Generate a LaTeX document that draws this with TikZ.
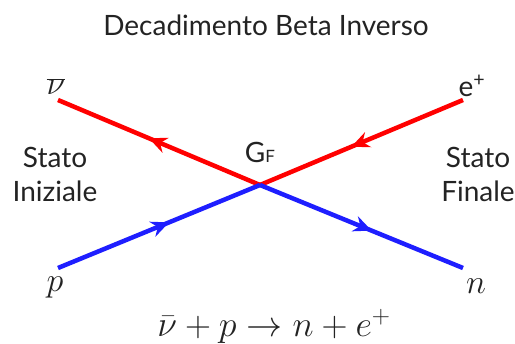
\RequirePackage{fix-cm}
\documentclass[tikz,border=0pt]{standalone}
\usepackage{fontspec}
\setmainfont{Lato}
\usetikzlibrary{arrows.meta,decorations.markings}
\definecolor{lred}{RGB}{255,0,0}
\definecolor{lblue}{RGB}{30,30,255}
\definecolor{txt}{RGB}{35,35,35}
\tikzset{
  txtlabel/.style={text=txt,font=\fontsize{28}{34}\selectfont,inner sep=0pt,anchor=base},
  mathlabel/.style={text=txt,font=\fontsize{34}{40}\selectfont,inner sep=0pt,anchor=base},
  particle/.style={line width=4.5pt,postaction={decorate},decoration={markings,
     mark=at position 0.55 with {\arrow{Stealth[length=18pt,width=16pt]}}}},
}
\begin{document}
\begin{tikzpicture}[x=1pt,y=-1pt]
\useasboundingbox (0,0) rectangle (515,344);
\coordinate (v) at (260,185);
\coordinate (nubar) at (58,100);
\coordinate (ep) at (463,100);
\coordinate (p) at (58,268);
\coordinate (n) at (463,268);
\draw[particle,lred] (v) -- (nubar);
\draw[particle,lred] (ep) -- (v);
\draw[particle,lblue] (p) -- (v);
\draw[particle,lblue] (v) -- (n);
\node[txtlabel] (title) at (266,36) {Decadimento Beta Inverso};
\node[mathlabel] (lnu) at (56,95) {$\overline{\nu}$};
\node[txtlabel] (le) at (472,97) {e\textsuperscript{+}};
\node[txtlabel] (gf) at (260,163) {G{\fontsize{17}{20}\selectfont F}};
\node[txtlabel,align=center] (si) at (55,202) {Stato\\Iniziale};
\node[txtlabel,align=center] (sf) at (478,202) {Stato\\Finale};
\node[mathlabel] (lp) at (55,292) {$p$};
\node[mathlabel] (ln) at (476,294) {$n$};
\node[mathlabel,font=\fontsize{36}{40}\selectfont] (eq) at (274,337) {$\bar\nu+p\rightarrow n+e^+$};
\end{tikzpicture}
\end{document}
